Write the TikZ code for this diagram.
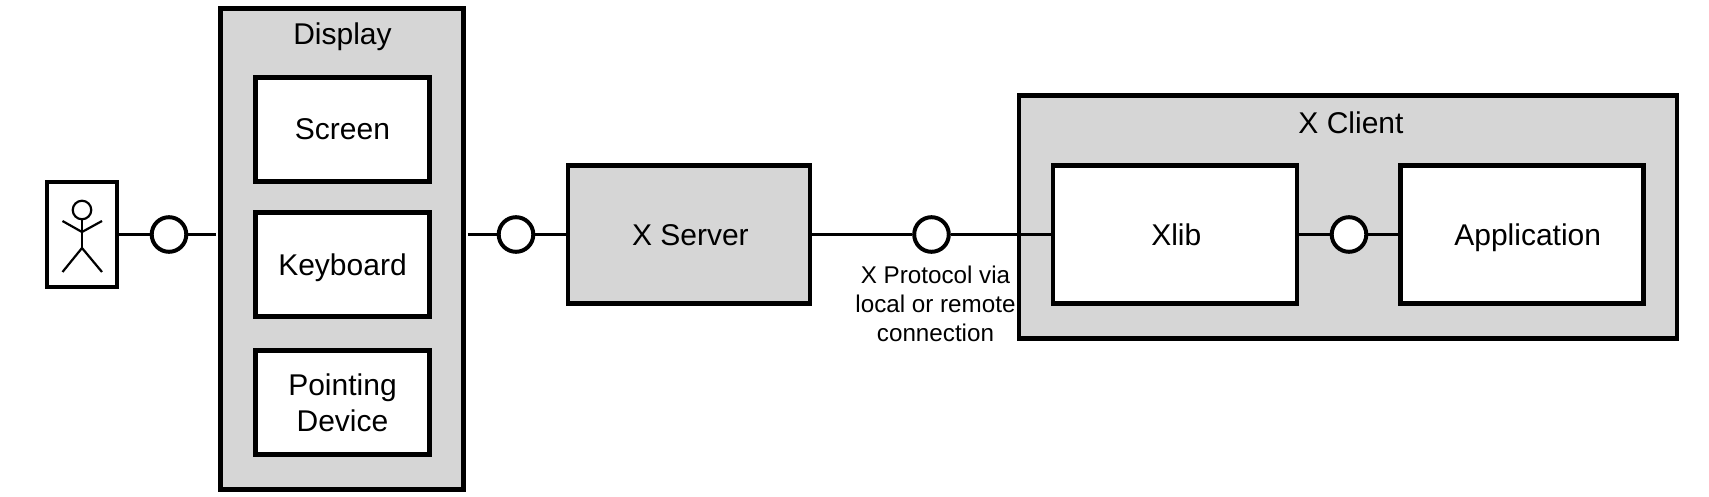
\documentclass[tikz,border=0pt]{standalone}
\usepackage{fontspec}
\setmainfont{Liberation Sans}
\definecolor{panel}{HTML}{D6D6D6}
\tikzset{
  x=1pt,y=-1pt,
  every node/.style={inner sep=0pt,text=black},
  boxbase/.style={draw=black,rectangle,line width=4.6pt,font=\fontsize{30}{36}\selectfont,align=center},
  oneline/.style={text height=22pt,text depth=0pt},
  whitebox/.style={boxbase,fill=white},
  graybox/.style={boxbase,fill=panel},
  port/.style={draw=black,circle,fill=white,line width=4pt,minimum size=34.6pt},
  link/.style={draw=black,line width=3pt},
  stick/.style={draw=black,line width=2.2pt},
  title/.style={font=\fontsize{30}{36}\selectfont,anchor=base},
  small/.style={font=\fontsize{24.2}{29}\selectfont,align=center}
}
\begin{document}
\begin{tikzpicture}
\useasboundingbox[fill=white] (0,0) rectangle (1709,497);
% containers
\node[graybox,minimum width=243pt,minimum height=481pt] (display) at (342,249) {};
\node[graybox,minimum width=658pt,minimum height=243pt] (client) at (1348,217) {};
\node[title] (displaytitle) at (342.5,44.5) {Display};
\node[title] (clienttitle) at (1351,133.5) {X Client};
% inner boxes
\node[whitebox,oneline,text height=20pt,minimum width=174pt,minimum height=104pt] (screen) at (342.5,129.5) {Screen};
\node[whitebox,oneline,minimum width=174pt,minimum height=104pt] (keyboard) at (342.5,264.5) {Keyboard};
\node[whitebox,minimum width=174pt,minimum height=104pt] (pointing) at (342.5,402.5) {Pointing\\Device};
\node[graybox,oneline,minimum width=242pt,minimum height=138pt] (server) at (688.9,234.5) {\hspace*{3pt}X Server};
\node[whitebox,oneline,minimum width=244pt,minimum height=138pt] (xlib) at (1174.8,234.5) {\hspace*{3pt}Xlib};
\node[whitebox,oneline,minimum width=243pt,minimum height=138pt] (app) at (1522.2,234.5) {\hspace*{11pt}Application};
% actor
\node[draw=black,rectangle,fill=white,line width=4.6pt,minimum width=70pt,minimum height=105pt] (actor) at (82,234.5) {};
\node[stick,circle,minimum size=18.5pt] (head) at (82,210) {};
\coordinate (hip) at (82,248);
\coordinate (shoulder) at (82,232);
\draw[stick] (head.south) -- (hip);
\draw[stick] (62.5,221) -- (shoulder) -- (102,221);
\draw[stick] (62.5,272) -- (hip) -- (102,272);
% ports
\node[port] (p1) at (169,234.5) {};
\node[port] (p2) at (516,234.5) {};
\node[port] (p3) at (931.5,234.5) {};
\node[port] (p4) at (1349,234.5) {};
% connectors
\draw[link] (actor.east) -- (p1.west);
\draw[link,shorten >=2pt] (p1.east) -- (p1.east -| display.west);
\draw[link,shorten <=2pt] (p2.west -| display.east) -- (p2.west);
\draw[link] (p2.east) -- (server.west);
\draw[link] (server.east) -- (p3.west);
\draw[link] (p3.east) -- (xlib.west);
\draw[link] (xlib.east) -- (p4.west);
\draw[link] (p4.east) -- (app.west);
\node[small] (protocol) at (935.5,304) {X Protocol via\\local or remote\\connection};
\end{tikzpicture}
\end{document}
